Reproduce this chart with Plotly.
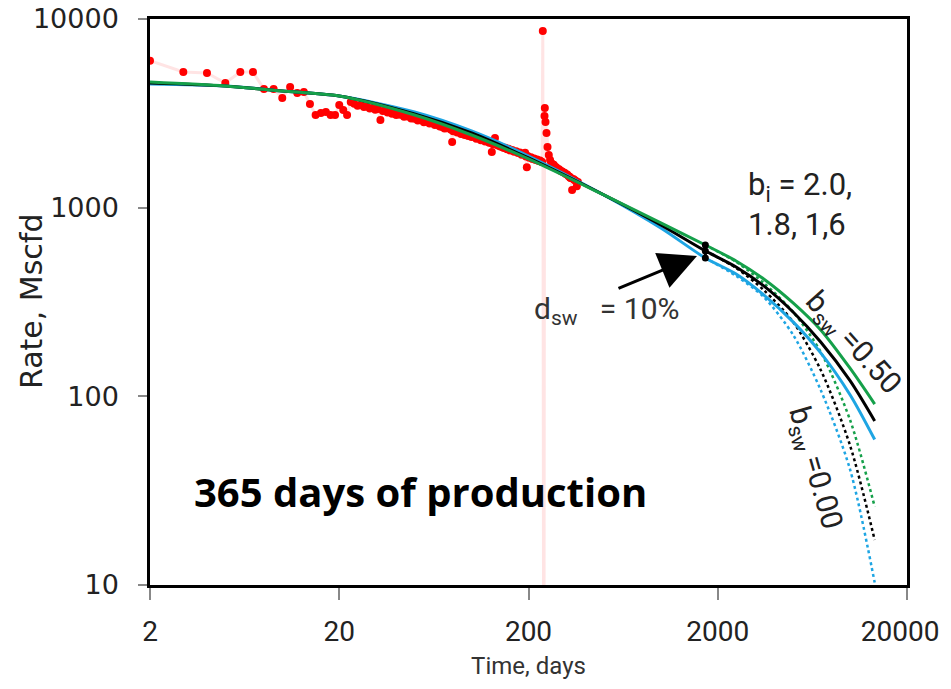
import plotly.graph_objects as go

# ---------------- data ----------------
prod_days = [2, 3, 4, 5, 6, 7, 8, 9, 10, 11, 12, 13, 14, 15, 16, 17, 18, 19, 20, 21, 22,
             23, 24, 25, 26, 27, 28, 29, 30, 31, 32, 33, 34, 35, 36, 37, 38, 39, 40, 42, 44,
             46, 48, 50, 52, 54, 56, 58, 60, 62, 64, 66, 68, 70, 72, 74, 76, 77, 78, 79, 80,
             82, 84, 86, 88, 90, 92, 94, 96, 98, 100, 103, 106, 109, 112, 115, 118, 121, 124,
             127, 128, 130, 133, 136, 139, 142, 145, 148, 151, 154, 157, 160, 164, 168, 172,
             176, 180, 184, 188, 192, 194, 196, 198, 202, 206, 210, 214, 218, 222, 226, 230,
             234, 236, 238, 241, 243, 244, 246, 249, 252, 256, 260, 264, 268, 272, 276, 280,
             285, 290, 295, 300, 305, 310, 315, 320, 325, 330, 332, 335, 340, 345, 350,
             355, 360, 365]
prod_rate = [6012, 5236, 5173, 4580, 5236, 5236, 4256, 4256, 3813, 4361, 4053, 4103, 3546,
             3100, 3177, 3215, 3100, 3100, 3503, 3294, 3100,
             3632, 3560, 3470, 3510, 3420, 3440, 3350, 3380, 3300, 3330, 2916, 3250, 3270,
             3190, 3220, 3150, 3180, 3100, 3110, 3030, 3040, 2970, 2960, 2900, 2910, 2840,
             2860, 2790, 2800, 2740, 2750, 2690, 2680, 2630, 2640, 2700, 2620, 2590, 2229,
             2540, 2560, 2500, 2520, 2460, 2470, 2430, 2440, 2400, 2410, 2370, 2380, 2320,
             2330, 2280, 2290, 2240, 2250, 2210, 2200, 1973, 2170, 2341, 2150, 2130, 2110,
             2100, 2070, 2080, 2040, 2050, 2010, 2020, 1980, 1990, 1950, 1960, 1910, 1920,
             1952, 1870, 1640, 1880, 1840, 1850, 1810, 1820, 1790, 1800, 1770, 1780, 1750,
             1745, 8637, 0.5, 3062, 3376, 2846, 2488, 2098, 1900, 1789, 1720, 1700, 1690,
             1650, 1640, 1610, 1600, 1570, 1560, 1540, 1530, 1510, 1500, 1470, 1460, 1440,
             1437, 1241, 1420, 1400, 1390, 1300, 1370, 1350, 1340]

fit_days = [2, 5, 10, 20, 50, 100, 200, 500, 1000, 1720, 2500, 3500, 5000, 7000, 10000, 13500]
rate_bi20 = [4634, 4415, 4153, 3908, 3100, 2428, 1812, 1168, 830, 634, 522, 419, 313, 225, 141, 91]
rate_bi18 = [4580, 4415, 4153, 3908, 3138, 2488, 1834, 1168, 810, 590, 485, 385, 280, 194, 121, 74]
rate_bi16 = [4524, 4415, 4153, 3908, 3215, 2550, 1879, 1168, 780, 541, 445, 345, 248, 170, 102, 59]

exp_days = [1720, 2500, 3500, 5000, 7000, 10000, 13500]
exp_bi20 = [634, 516, 399, 280, 172, 75, 26]
exp_bi18 = [590, 479, 366, 248, 138, 55, 17.3]
exp_bi16 = [541, 435, 336, 212, 108, 41, 10.3]

switch_day = [1720, 1720, 1720]
switch_rate = [634, 590, 541]

x_ticks = [2, 20, 200, 2000, 20000]
x_labels = ["2", "20", "200", "2000", "20000\u00a0\u00a0"]
y_ticks = [10, 100, 1000, 10000]

GREEN = "#15A04A"
BLUE = "#1EA5E3"
BLACK = "#000000"

fig = go.Figure()

# production data
fig.add_trace(go.Scatter(x=prod_days, y=prod_rate, mode="lines+markers",
                         line=dict(color="rgba(255,120,120,0.2)", width=3),
                         marker=dict(color="#FF0000", size=8, line=dict(width=0)),
                         showlegend=False))

# exponential tails (b_sw = 0)
for yy, col in [(exp_bi16, BLUE), (exp_bi18, BLACK), (exp_bi20, GREEN)]:
    fig.add_trace(go.Scatter(x=exp_days, y=yy, mode="lines",
                             line=dict(color=col, width=2.5, dash="dot", shape="spline", smoothing=0.8),
                             showlegend=False))

# hyperbolic fits (b_sw = 0.5)
for yy, col in [(rate_bi16, BLUE), (rate_bi18, BLACK), (rate_bi20, GREEN)]:
    fig.add_trace(go.Scatter(x=fit_days, y=yy, mode="lines",
                             line=dict(color=col, width=3, shape="spline", smoothing=0.8),
                             showlegend=False))

# switch points
fig.add_trace(go.Scatter(x=switch_day, y=switch_rate, mode="lines+markers",
                         line=dict(color="black", width=3),
                         marker=dict(color="black", size=7),
                         showlegend=False))

NARROW = "Roboto, Liberation Sans Narrow, sans-serif"
VERD = "DejaVu Sans, Verdana, sans-serif"

fig.update_layout(
    width=943, height=681,
    margin=dict(l=142, r=44, t=11, b=104),
    paper_bgcolor="white", plot_bgcolor="white",
    xaxis=dict(type="log", range=[0.3010, 4.30106], tickvals=x_ticks,
               ticktext=x_labels, automargin=False, ticklabeloverflow="allow",
               showgrid=False, zeroline=False,
               showline=True, linecolor="black", linewidth=2.5, mirror=True,
               ticks="outside", ticklen=12, tickwidth=1.5, tickcolor="#888888",
               ticklabelstandoff=8,
               tickfont=dict(family=NARROW, size=28, color="#222222"),
               title=dict(text="Time, days", font=dict(family=NARROW, size=24, color="#333333"),
                          standoff=10)),
    yaxis=dict(type="log", range=[0.99995, 4.00005], tickvals=y_ticks,
               ticktext=[str(v) for v in y_ticks], automargin=False, ticklabeloverflow="allow",
               showgrid=False, zeroline=False,
               showline=True, linecolor="black", linewidth=2.5, mirror=True,
               ticks="outside", ticklen=9, tickwidth=1.5, tickcolor="#888888",
               ticklabelstandoff=14,
               tickfont=dict(family=VERD, size=27, color="#222222")),
)

def ppx(px):
    return (px - 150) / 757.0

def ppy(py):
    return (585 - py) / 566.0

annos = [
    dict(text="Rate, Mscfd", x=ppx(31), y=ppy(302), xanchor="center", yanchor="middle",
         textangle=-90, font=dict(family=VERD, size=30, color="#222222"), showarrow=False),
    dict(text="<b>365 days of production</b>", x=ppx(192), y=ppy(492), xanchor="left", yanchor="middle",
         font=dict(family="Open Sans, sans-serif", size=40, color="black"), showarrow=False),
    dict(text="b<sub>i</sub> = 2.0,<br>1.8, 1,6", x=ppx(746), y=ppy(204), xanchor="left", yanchor="middle",
         align="left", font=dict(family=NARROW, size=31, color="#222222"), showarrow=False),
    dict(text="d<sub>sw</sub>\u00a0\u00a0 = 10%", x=ppx(606), y=ppy(310), xanchor="center", yanchor="middle",
         font=dict(family=NARROW, size=30, color="#333333"), showarrow=False),
    dict(text="b<sub>sw</sub> =0.50", x=ppx(853), y=ppy(343), xanchor="center", yanchor="middle",
         textangle=48, font=dict(family=NARROW, size=30, color="#222222"), showarrow=False),
    dict(text="b<sub>sw</sub> =0.00", x=ppx(815), y=ppy(468), xanchor="center", yanchor="middle",
         textangle=74, font=dict(family=NARROW, size=30, color="#222222"), showarrow=False),
    dict(text="", x=ppx(697), y=ppy(256), ax=-80, ay=33, showarrow=True,
         arrowhead=2, arrowsize=2.5, arrowwidth=3, arrowcolor="black"),
]
for a in annos:
    a.setdefault("xref", "paper")
    a.setdefault("yref", "paper")
    fig.add_annotation(**a)

fig.write_html("out.html")
